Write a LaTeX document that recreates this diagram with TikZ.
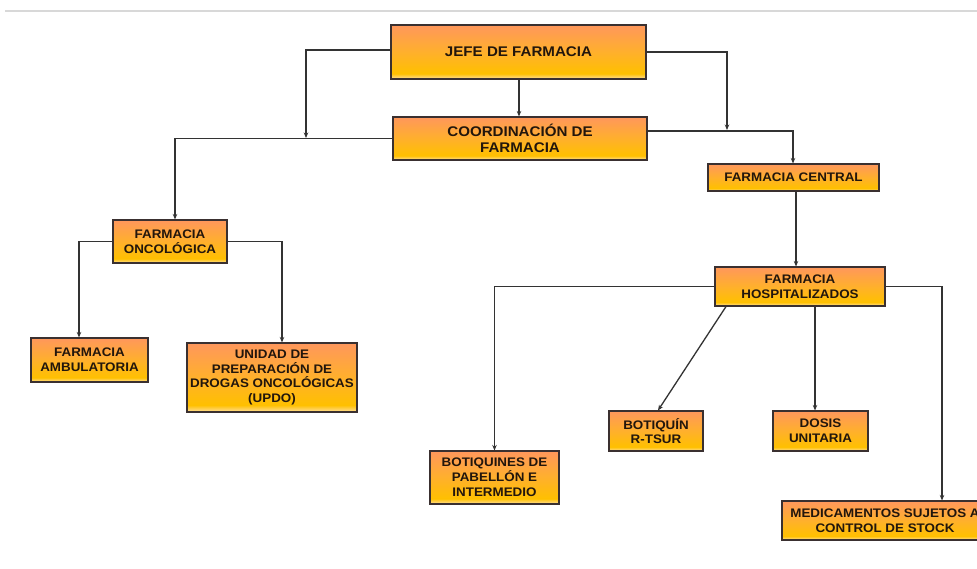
\documentclass[tikz,border=0pt]{standalone}
\usepackage{fontspec}
\newfontfamily\boxfont{Liberation Sans}[FakeStretch=1.08]
\usetikzlibrary{arrows.meta}
\definecolor{shTop}{HTML}{FF975C}
\definecolor{shMid}{HTML}{FFB02C}
\definecolor{shLow}{HTML}{FFC000}
\definecolor{shBand}{HTML}{FFDFA0}
\definecolor{txt}{HTML}{22160C}
\definecolor{edge}{HTML}{3A3030}
\definecolor{wire}{HTML}{333333}
\pgfdeclareverticalshading{orgbox}{100bp}{color(0bp)=(shBand); color(25bp)=(shBand); color(30bp)=(shLow); color(50bp)=(shMid); color(75bp)=(shTop); color(100bp)=(shTop)}
\tikzset{
  orgnode/.style={draw=edge, line width=1.1pt, shading=orgbox, text=txt, align=center,
    inner sep=0pt, font=\boxfont\bfseries\fontsize{12.4}{14.8}\selectfont},
  bignode/.style={orgnode, font=\boxfont\bfseries\fontsize{14}{16.6}\selectfont},
  link/.style={draw=wire, line width=1.3pt, -{Stealth[length=5.5pt,width=4.5pt]}},
}
\begin{document}
\begin{tikzpicture}[x=1pt,y=-1pt]
\useasboundingbox (0,0) rectangle (977,568);
\clip (0,0) rectangle (977,568);
\fill[white] (0,0) rectangle (977,568);
\draw[line width=2.6pt, draw={rgb,255:red,216;green,216;blue,216}] (5,11) -- (977,11);

\node[bignode, minimum width=255pt, minimum height=54pt] (jefe) at (518.5,52) {JEFE DE FARMACIA};
\node[bignode, minimum width=254pt, minimum height=43pt] (coord) at (520,138.5) {COORDINACIÓN DE\\FARMACIA};
\node[orgnode, minimum width=114pt, minimum height=43pt] (onco) at (170,241.5) {FARMACIA\\ONCOLÓGICA};
\node[orgnode, minimum width=117pt, minimum height=44pt] (amb) at (89.5,360) {FARMACIA\\AMBULATORIA};
\node[orgnode, minimum width=170pt, minimum height=69pt] (updo) at (272,377.5) {UNIDAD DE\\PREPARACIÓN DE\\DROGAS ONCOLÓGICAS\\(UPDO)};
\node[orgnode, minimum width=171pt, minimum height=27pt] (central) at (793.5,177.5) {FARMACIA CENTRAL};
\node[orgnode, minimum width=170pt, minimum height=39pt] (hosp) at (800,286.5) {FARMACIA\\HOSPITALIZADOS};
\node[orgnode, minimum width=129pt, minimum height=53pt] (botiq) at (494.5,477.5) {BOTIQUINES DE\\PABELLÓN E\\INTERMEDIO};
\node[orgnode, minimum width=94pt, minimum height=40pt] (rtsur) at (656,431) {BOTIQUÍN\\R-TSUR};
\node[orgnode, minimum width=95pt, minimum height=40pt] (dosis) at (820.5,431) {DOSIS\\UNITARIA};
\node[orgnode, minimum width=206pt, minimum height=39pt] (med) at (885,520.5) {MEDICAMENTOS SUJETOS A\\CONTROL DE STOCK};

\coordinate (jl) at (306,138);
\coordinate (jr) at (727,130);

\draw[link] (jefe.west |- 0,50) -| (jl);
\draw[link] (jefe.east |- 0,52) -| (jr);
\draw[link] (jefe.south -| 519,0) -- (coord.north -| 519,0);
\draw[link] (coord.west) -| ([xshift=5pt]onco.north);
\draw[link] (coord.east |- 0,131) -| ([xshift=-0.5pt]central.north);
\draw[link] (onco.west) -| ([xshift=-10.5pt]amb.north);
\draw[link] (onco.east) -| ([xshift=10pt]updo.north);
\draw[link] ([xshift=2.5pt]central.south) -- ([xshift=-4pt]hosp.north);
\draw[link] (hosp.west) -| (botiq.north);
\draw[link] ([xshift=-74pt]hosp.south) -- ([xshift=2pt]rtsur.north);
\draw[link] ([xshift=15pt]hosp.south) -- ([xshift=-5.5pt]dosis.north);
\draw[link] (hosp.east) -| ([xshift=57pt]med.north);
\end{tikzpicture}
\end{document}
